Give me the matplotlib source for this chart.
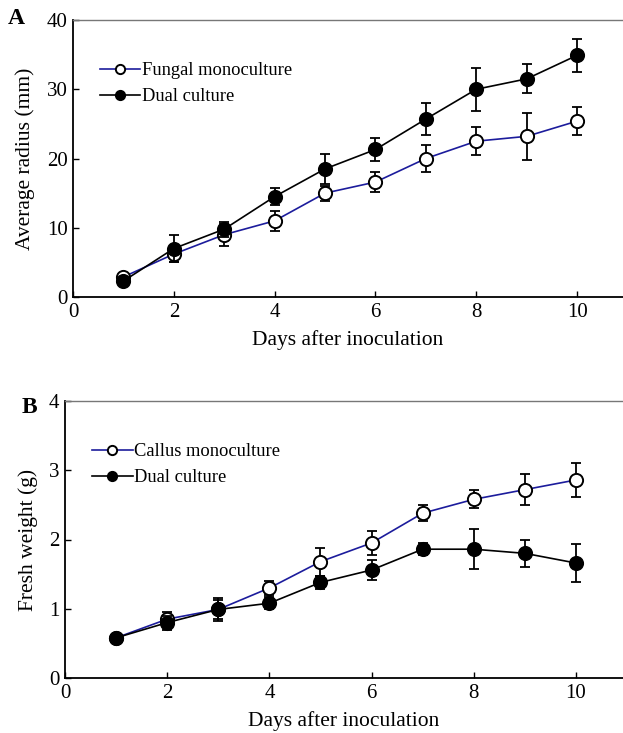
import matplotlib
matplotlib.use("Agg")
import matplotlib.pyplot as plt
import numpy as np

plt.rcParams['font.family'] = ['Liberation Serif', 'DejaVu Serif']
plt.rcParams['font.size'] = 12

days = [1, 2, 3, 4, 5, 6, 7, 8, 9, 10]

# Panel A: average radius (mm)
fungal_mono = [2.9, 6.2, 9.0, 11.0, 15.0, 16.6, 20.0, 22.5, 23.2, 25.4]
fungal_mono_err = [0.4, 1.2, 1.6, 1.4, 1.1, 1.4, 1.9, 2.0, 3.4, 2.0]
dual_radius = [2.3, 7.0, 9.8, 14.5, 18.5, 21.3, 25.7, 30.0, 31.5, 34.9]
dual_radius_err = [0.3, 1.9, 1.1, 1.2, 2.2, 1.7, 2.3, 3.1, 2.1, 2.4]

# Panel B: fresh weight (g)
callus_mono = [0.58, 0.85, 0.99, 1.30, 1.68, 1.95, 2.38, 2.58, 2.72, 2.86]
callus_mono_err = [0.03, 0.11, 0.17, 0.10, 0.20, 0.17, 0.12, 0.13, 0.22, 0.24]
dual_weight = [0.58, 0.80, 0.99, 1.08, 1.38, 1.56, 1.86, 1.86, 1.80, 1.66]
dual_weight_err = [0.03, 0.10, 0.14, 0.09, 0.09, 0.15, 0.09, 0.29, 0.20, 0.28]

xticks = [0, 2, 4, 6, 8, 10]

BLUE = '#1c1c9c'

fig = plt.figure(figsize=(6.23, 7.33), dpi=100)

def panel(rect, xmax, y1, e1, y2, e2, lab1, lab2, ylim, yticks, ylabel, letter, letter_pos):
    ax = fig.add_axes(rect)
    ax.errorbar(days, y1, yerr=e1, fmt='none', ecolor='black', elinewidth=1.3,
                capsize=3.6, capthick=1.3, zorder=2)
    ax.plot(days, y1, '-o', color=BLUE, lw=1.2, ms=9.5, mfc='white', mec='black',
            mew=1.4, label=lab1, zorder=3)
    ax.errorbar(days, y2, yerr=e2, fmt='none', ecolor='black', elinewidth=1.3,
                capsize=3.6, capthick=1.3, zorder=4)
    ax.plot(days, y2, '-o', color='black', lw=1.2, ms=9.5, mfc='black', mec='black',
            mew=1.4, label=lab2, zorder=5)
    ax.set_xlim(0, xmax)
    ax.set_ylim(*ylim)
    ax.set_xticks(xticks)
    ax.set_yticks(yticks)
    ax.tick_params(direction='in', length=4, width=1, labelsize=15, pad=4)
    ax.spines['right'].set_visible(False)
    ax.spines['top'].set_color('#777777')
    ax.spines['top'].set_linewidth(1.0)
    ax.spines['left'].set_linewidth(1.3)
    ax.spines['bottom'].set_linewidth(1.3)
    ax.set_xlabel('Days after inoculation', fontsize=15.5, labelpad=6)
    ax.set_ylabel(ylabel, fontsize=15.5, labelpad=8)
    ax.legend(loc='upper left', bbox_to_anchor=(0.035, 0.875), frameon=False,
              fontsize=13.3, handlelength=2.2, handletextpad=0.1,
              labelspacing=0.5, markerscale=0.7, borderaxespad=0)
    fig.text(letter_pos[0], letter_pos[1], letter, fontsize=17, fontweight='bold',
             ha='left', va='center')
    return ax

W, H = 623, 733
# Panel A
ax1 = panel([73 / W, 1 - 297 / H, (623 - 73) / W, (297 - 20) / H], 10.91,
            fungal_mono, fungal_mono_err, dual_radius, dual_radius_err,
            'Fungal monoculture', 'Dual culture', (0, 40), [0, 10, 20, 30, 40],
            'Average radius (mm)', 'A', (8 / W, 1 - 19 / H))
# Panel B
ax2 = panel([65 / W, 1 - 678 / H, (623 - 65) / W, (678 - 401) / H], 10.92,
            callus_mono, callus_mono_err, dual_weight, dual_weight_err,
            'Callus monoculture', 'Dual culture', (0, 4), [0, 1, 2, 3, 4],
            'Fresh weight (g)', 'B', (22 / W, 1 - 407 / H))

fig.savefig('out.png', dpi=100)
